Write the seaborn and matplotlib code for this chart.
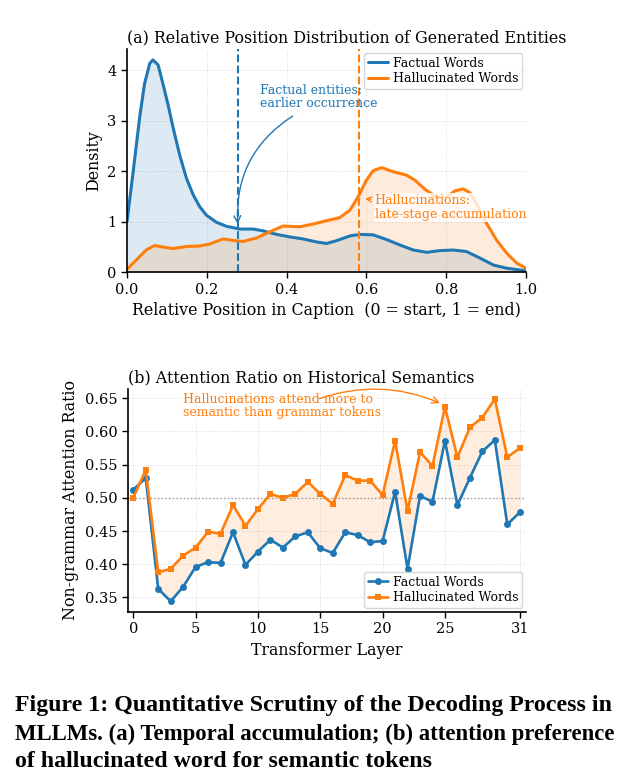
import numpy as np
import pandas as pd
import matplotlib
matplotlib.use("Agg")
import matplotlib.pyplot as plt
import seaborn as sns

# ---------------- data ----------------
# (a) density curves
fact_pos = [0.0, 0.015, 0.032, 0.044, 0.057, 0.065, 0.078, 0.09, 0.103, 0.115, 0.132,
            0.149, 0.166, 0.182, 0.199, 0.224, 0.249, 0.283, 0.316, 0.341, 0.375, 0.408,
            0.441, 0.475, 0.5, 0.525, 0.559, 0.584, 0.617, 0.65, 0.684, 0.718, 0.751,
            0.785, 0.818, 0.851, 0.885, 0.918, 0.952, 1.0]
fact_den = [1.0, 1.96, 3.08, 3.73, 4.13, 4.20, 4.10, 3.73, 3.31, 2.88, 2.32,
            1.86, 1.53, 1.30, 1.13, 0.99, 0.91, 0.855, 0.855, 0.82, 0.75, 0.70,
            0.66, 0.60, 0.57, 0.625, 0.72, 0.75, 0.74, 0.65, 0.54, 0.44, 0.395,
            0.43, 0.44, 0.41, 0.28, 0.145, 0.08, 0.03]
hall_pos = [0.0, 0.023, 0.048, 0.069, 0.09, 0.115, 0.149, 0.182, 0.208, 0.241, 0.266,
            0.291, 0.325, 0.358, 0.391, 0.433, 0.467, 0.5, 0.533, 0.559, 0.579, 0.6,
            0.617, 0.638, 0.667, 0.701, 0.722, 0.747, 0.776, 0.801, 0.822, 0.843, 0.86,
            0.876, 0.901, 0.926, 0.952, 0.977, 1.0]
hall_den = [0.06, 0.24, 0.44, 0.53, 0.50, 0.47, 0.51, 0.52, 0.56, 0.66, 0.63,
            0.61, 0.68, 0.80, 0.915, 0.90, 0.955, 1.02, 1.08, 1.23, 1.49, 1.82,
            2.01, 2.07, 1.99, 1.92, 1.82, 1.64, 1.49, 1.49, 1.61, 1.65, 1.57,
            1.36, 0.97, 0.64, 0.375, 0.18, 0.08]
fact_mean = 0.278
hall_mean = 0.582

# (b) attention ratio per layer
layers = list(range(32))
fact_ratio = [0.512, 0.530, 0.363, 0.344, 0.366, 0.396, 0.403, 0.402, 0.448, 0.399,
              0.419, 0.437, 0.425, 0.442, 0.448, 0.424, 0.417, 0.448, 0.444, 0.433,
              0.435, 0.509, 0.393, 0.503, 0.494, 0.586, 0.489, 0.530, 0.570, 0.587,
              0.460, 0.478]
hall_ratio = [0.500, 0.542, 0.388, 0.393, 0.413, 0.425, 0.449, 0.446, 0.489, 0.458,
              0.483, 0.506, 0.500, 0.506, 0.524, 0.506, 0.491, 0.534, 0.526, 0.526,
              0.504, 0.586, 0.480, 0.569, 0.548, 0.637, 0.561, 0.606, 0.621, 0.649,
              0.561, 0.575]
layer_ticks = [0, 5, 10, 15, 20, 25, 31]

series_names = ["Factual Words", "Hallucinated Words"]
caption_lines = ["Figure 1: Quantitative Scrutiny of the Decoding Process in",
                 "MLLMs. (a) Temporal accumulation; (b) attention preference",
                 "of hallucinated word for semantic tokens"]

# ---------------- style ----------------
sns.set_theme(style="ticks")
plt.rcParams["font.family"] = ["DejaVu Serif"]
plt.rcParams["axes.edgecolor"] = "black"
plt.rcParams["xtick.color"] = "black"
plt.rcParams["ytick.color"] = "black"
plt.rcParams["text.color"] = "black"
plt.rcParams["axes.labelcolor"] = "black"
plt.rcParams["axes.titlecolor"] = "black"
BLUE = "#1f77b4"
ORANGE = "#ff7f0e"
LBL = 11.4
TCK = 10.5

fig = plt.figure(figsize=(6.21, 7.8), dpi=100)
ax1 = fig.add_axes([0.2045, 0.6509, 0.6425, 0.2859])
ax2 = fig.add_axes([0.2056, 0.2158, 0.6414, 0.2851])

def style_axes(ax):
    ax.grid(True, linestyle=":", linewidth=0.6, color="#d5d5d5")
    ax.set_axisbelow(True)
    sns.despine(ax=ax)
    for s in ("left", "bottom"):
        ax.spines[s].set_linewidth(1.2)
    ax.tick_params(labelsize=TCK, length=4, width=1.0, direction="out")

# ---------------- (a) ----------------
df_f = pd.DataFrame({"x": fact_pos, "y": fact_den})
df_h = pd.DataFrame({"x": hall_pos, "y": hall_den})
ax1.fill_between(fact_pos, fact_den, color=BLUE, alpha=0.15, lw=0)
ax1.fill_between(hall_pos, hall_den, color=ORANGE, alpha=0.15, lw=0)
sns.lineplot(data=df_f, x="x", y="y", ax=ax1, color=BLUE, lw=2.2, label=series_names[0])
sns.lineplot(data=df_h, x="x", y="y", ax=ax1, color=ORANGE, lw=2.2, label=series_names[1])
ax1.axvline(fact_mean, color=BLUE, ls="--", lw=1.5)
ax1.axvline(hall_mean, color=ORANGE, ls="--", lw=1.5)
ax1.set_xlim(0, 1)
ax1.set_ylim(0, 4.41)
ax1.set_xticks([0.0, 0.2, 0.4, 0.6, 0.8, 1.0])
ax1.set_yticks([0, 1, 2, 3, 4])
style_axes(ax1)
ax1.set_xlabel("Relative Position in Caption  (0 = start, 1 = end)", fontsize=LBL)
ax1.set_ylabel("Density", fontsize=LBL)
ax1.set_title("(a) Relative Position Distribution of Generated Entities",
              loc="left", fontsize=LBL, pad=5)
ax1.legend(loc="upper right", fontsize=9, frameon=True, handlelength=1.6,
           borderaxespad=0.3, labelspacing=0.2, handletextpad=0.4, borderpad=0.3)
ax1.text(0.333, 3.47, "Factual entities:\nearlier occurrence", color=BLUE,
         fontsize=9, ha="left", va="center", linespacing=1.05)
ax1.annotate("", xy=(fact_mean, 0.90), xytext=(0.421, 3.12),
             arrowprops=dict(arrowstyle="->", color=BLUE, lw=1.0,
                             connectionstyle="arc3,rad=0.3"))
ax1.annotate("Hallucinations:\nlate-stage accumulation", xy=(0.590, 1.46),
             xytext=(0.621, 1.28), color=ORANGE, fontsize=9, ha="left", va="center",
             linespacing=1.05,
             bbox=dict(boxstyle="square,pad=0.1", fc="white", ec="none", alpha=0.8),
             arrowprops=dict(arrowstyle="->", color=ORANGE, lw=1.0))

# ---------------- (b) ----------------
df_b = pd.DataFrame({"layer": layers + layers,
                     "ratio": fact_ratio + hall_ratio,
                     "kind": [series_names[0]] * 32 + [series_names[1]] * 32})
ax2.fill_between(layers, fact_ratio, hall_ratio, color=ORANGE, alpha=0.13, lw=0)
ax2.axhline(0.5, color="#999999", ls=":", lw=1.0)
sns.lineplot(data=df_b, x="layer", y="ratio", hue="kind", style="kind",
             palette=[BLUE, ORANGE], markers=["o", "s"], dashes=False,
             markersize=5, markeredgewidth=0, lw=1.9, ax=ax2)
ax2.set_xlim(-0.45, 31.5)
ax2.set_ylim(0.3285, 0.6635)
ax2.set_xticks(layer_ticks)
ax2.set_yticks([0.35, 0.40, 0.45, 0.50, 0.55, 0.60, 0.65])
ax2.set_yticklabels(["%.2f" % v for v in [0.35, 0.40, 0.45, 0.50, 0.55, 0.60, 0.65]])
style_axes(ax2)
ax2.set_xlabel("Transformer Layer", fontsize=LBL)
ax2.set_ylabel("Non-grammar Attention Ratio", fontsize=LBL)
ax2.set_title("(b) Attention Ratio on Historical Semantics", loc="left", fontsize=LBL, pad=5)
ax2.legend(loc="lower right", fontsize=9, frameon=True, handlelength=1.6,
           borderaxespad=0.3, labelspacing=0.2, handletextpad=0.4, borderpad=0.3,
           title=None)
ax2.text(4.0, 0.638, "Hallucinations attend more to\nsemantic than grammar tokens",
         color=ORANGE, fontsize=9, ha="left", va="center", linespacing=1.05)
ax2.annotate("", xy=(24.8, 0.641), xytext=(14.7, 0.648),
             arrowprops=dict(arrowstyle="->", color=ORANGE, lw=1.0,
                             connectionstyle="arc3,rad=-0.2"))

# ---------------- caption ----------------
for line, base_px, fs in zip(caption_lines, [710.5, 740, 767], [17.2, 16.35, 17.2]):
    fig.text(15 / 621, 1 - base_px / 780, line, ha="left", va="baseline",
             fontsize=fs, fontweight="bold", family=["Liberation Serif"], color="black")

fig.savefig("out.png", dpi=100)
